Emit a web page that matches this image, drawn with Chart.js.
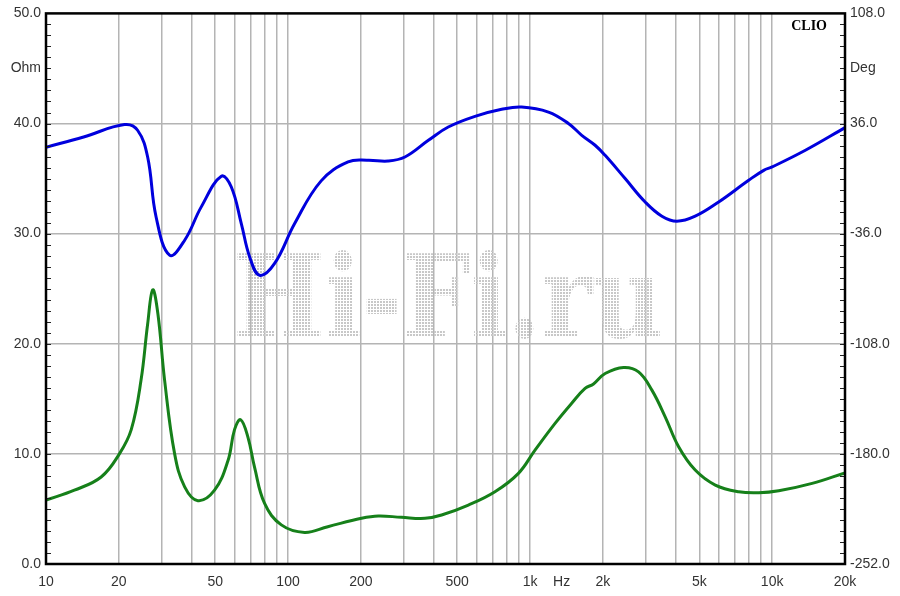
<!DOCTYPE html>
<html>
<head>
<meta charset="utf-8">
<script src="https://cdn.jsdelivr.net/npm/chart.js@4.4.1/dist/chart.umd.min.js"></script>
<style>
  html, body { margin: 0; padding: 0; background: #fff; }
  #wrap { width: 900px; height: 596px; position: relative; }
</style>
</head>
<body>
<div id="wrap"><canvas id="chart"></canvas></div>
<script>
// impedance modulus (green, left axis)
const impFreq = [10, 13.1, 16.9, 20.1, 22.5, 24.7, 26.3, 27.6, 29.0, 30.9, 34.0, 37.4, 42.4, 49.7, 56.5, 60.1, 63.7, 68.3, 72.7, 80,
  93.8, 117, 146, 201, 236, 294, 368, 431, 556, 716, 895, 1048, 1268, 1486, 1687, 1828, 2042, 2432, 2806,
  3186, 3615, 4108, 4810, 5823, 7275, 8806, 10650, 14630, 20000];
const impOhm = [5.8, 6.7, 7.9, 10.0, 12.2, 16.7, 21.8, 24.9, 22.7, 16.7, 10.0, 7.0, 5.75, 6.7, 9.4, 12.2, 13.1, 11.5, 8.8, 5.5,
  3.55, 2.87, 3.39, 4.15, 4.36, 4.24, 4.15, 4.45, 5.35, 6.56, 8.23, 10.34, 12.77, 14.6, 15.95, 16.35, 17.3, 17.85, 17.45,
  15.79, 13.37, 10.65, 8.53, 7.17, 6.56, 6.47, 6.65, 7.32, 8.28];

// phase (blue, right axis)
const phaseFreq = [10, 14.3, 21.1, 23.9, 26.3, 28.5, 32.4, 37.4, 43.8, 53.0, 58.3, 64.1, 69.4, 76.3, 88.0, 106.5, 137, 177, 214, 259,
  304, 380, 459, 592, 763, 923, 1191, 1440, 1635, 1856, 2042, 2470, 2988, 3504, 4042, 4810, 6012, 8000, 9230, 10000,
  13720, 20000];
const phaseDeg = [20.5, 27.2, 35.3, 31.6, 14.1, -25.1, -50.1, -40.3, -18.5, 1.5, -5.5, -29.4, -51.2, -63.2, -55.5, -29.4, -1.5, 10.9, 12.0, 11.5,
  14.1, 25.0, 33.7, 40.7, 45.3, 46.8, 43.5, 36.0, 28.3, 21.8, 15.2, 0.0, -15.3, -24.6, -27.9, -24.6, -15.3, -1.1, 5.4, 7.6,
  18.5, 33.3];

const freqTicks = [10, 20, 30, 40, 50, 60, 70, 80, 90, 100, 200, 300, 400, 500, 600, 700, 800, 900, 1000, 1350,
  2000, 3000, 4000, 5000, 6000, 7000, 8000, 9000, 10000, 20000];
const freqLabels = { 10: '10', 20: '20', 50: '50', 100: '100', 200: '200', 500: '500', 1000: '1k', 1350: 'Hz',
  2000: '2k', 5000: '5k', 10000: '10k', 20000: '20k' };

const ohmMin = 0, ohmMax = 50;
const degMin = -252, degMax = 108;

const GRID = '#b4b4b4';
const TXT = '#333';
const FONT = { family: '"Liberation Sans", Arial, sans-serif', size: 14 };

// dotted fill for the watermark
function dotPattern(ctx) {
  const c = document.createElement('canvas');
  c.width = 3; c.height = 3;
  const g = c.getContext('2d');
  g.fillStyle = '#c8c8c8';
  g.fillRect(0, 0, 2, 2);
  return ctx.createPattern(c, 'repeat');
}

const decor = {
  id: 'decor',
  beforeDatasetsDraw(chart) {
    const ctx = chart.ctx;
    // watermark
    ctx.save();
    ctx.font = 'bold 100px "DejaVu Serif", serif';
    const w = ctx.measureText('Hi-Fi.ru').width;
    const sx = 430 / w, sy = 84 / 73;
    ctx.translate(233, 337);
    ctx.scale(sx, sy);
    const pat = dotPattern(ctx);
    pat.setTransform(new DOMMatrix().scale(1 / sx, 1 / sy));
    ctx.fillStyle = pat;
    ctx.textBaseline = 'alphabetic';
    ctx.fillText('Hi-Fi.ru', 0, 0);
    ctx.restore();
  },
  afterDraw(chart) {
    const ctx = chart.ctx;
    const a = chart.chartArea;
    const yl = chart.scales.y;
    ctx.save();
    // small ticks inside the frame, every 1 Ohm
    ctx.strokeStyle = '#222';
    ctx.lineWidth = 1;
    ctx.beginPath();
    for (let v = ohmMin; v <= ohmMax; v++) {
      const py = Math.round(yl.getPixelForValue(v)) + 0.5;
      ctx.moveTo(a.left, py); ctx.lineTo(a.left + 5, py);
      ctx.moveTo(a.right, py); ctx.lineTo(a.right - 5, py);
    }
    ctx.stroke();
    // frame
    ctx.strokeStyle = '#000';
    ctx.lineWidth = 2.5;
    ctx.strokeRect(a.left, a.top, a.right - a.left, a.bottom - a.top);
    // CLIO label
    ctx.fillStyle = '#000';
    ctx.font = 'bold 14px "Liberation Serif", "Times New Roman", serif';
    ctx.textAlign = 'right';
    ctx.textBaseline = 'alphabetic';
    ctx.fillText('CLIO', a.right - 18, a.top + 17);
    ctx.restore();
  }
};

new Chart(document.getElementById('chart'), {
  type: 'line',
  data: {
    datasets: [
      {
        label: 'Phase',
        data: phaseFreq.map((f, i) => ({ x: f, y: phaseDeg[i] })),
        yAxisID: 'y2',
        borderColor: '#0000dd',
        borderWidth: 3,
        pointRadius: 0,
        tension: 0.4,
        fill: false
      },
      {
        label: 'Impedance',
        data: impFreq.map((f, i) => ({ x: f, y: impOhm[i] })),
        yAxisID: 'y',
        borderColor: '#16801a',
        borderWidth: 3,
        pointRadius: 0,
        tension: 0.4,
        fill: false
      }
    ]
  },
  options: {
    responsive: true,
    maintainAspectRatio: false,
    animation: false,
    layout: { padding: { top: 12, left: 0, right: 0, bottom: 0 } },
    plugins: {
      legend: { display: false },
      tooltip: { enabled: false }
    },
    scales: {
      x: {
        type: 'logarithmic',
        min: 10,
        max: 20000,
        afterBuildTicks: (scale) => {
          scale.ticks = freqTicks.map(v => ({ value: v }));
        },
        afterFit: (scale) => { scale.height = 32; },
        ticks: {
          autoSkip: false,
          maxRotation: 0,
          padding: 10,
          color: TXT,
          font: FONT,
          callback: (v) => freqLabels[v] || ''
        },
        grid: {
          drawTicks: false,
          lineWidth: 1.5,
          color: (c) => {
            const v = c.tick && c.tick.value;
            if (v === 1350 || v === 10 || v === 20000) return 'rgba(0,0,0,0)';
            return GRID;
          }
        },
        border: { display: false }
      },
      y: {
        position: 'left',
        min: ohmMin,
        max: ohmMax,
        afterFit: (scale) => { scale.width = 46; },
        ticks: {
          stepSize: 1,
          autoSkip: false,
          padding: 5,
          color: TXT,
          font: FONT,
          callback: (v) => {
            if (v === 45) return 'Ohm';
            return v % 10 === 0 ? v.toFixed(1) : '';
          }
        },
        grid: {
          drawTicks: false,
          lineWidth: 1.5,
          color: (c) => {
            const v = c.tick && c.tick.value;
            return (v % 10 === 0 && v > ohmMin && v < ohmMax) ? GRID : 'rgba(0,0,0,0)';
          }
        },
        border: { display: false }
      },
      y2: {
        position: 'right',
        min: degMin,
        max: degMax,
        afterFit: (scale) => { scale.width = 55; },
        afterBuildTicks: (scale) => {
          const t = [];
          for (let i = 0; i <= 50; i++) t.push({ value: degMin + i * 7.2 });
          scale.ticks = t;
        },
        ticks: {
          autoSkip: false,
          padding: 5,
          color: TXT,
          font: FONT,
          callback: (v, i) => {
            if (i === 45) return 'Deg';
            return i % 10 === 0 ? (degMin + i * 7.2).toFixed(1) : '';
          }
        },
        grid: { display: false, drawTicks: false },
        border: { display: false }
      }
    }
  },
  plugins: [decor]
});
</script>
</body>
</html>
